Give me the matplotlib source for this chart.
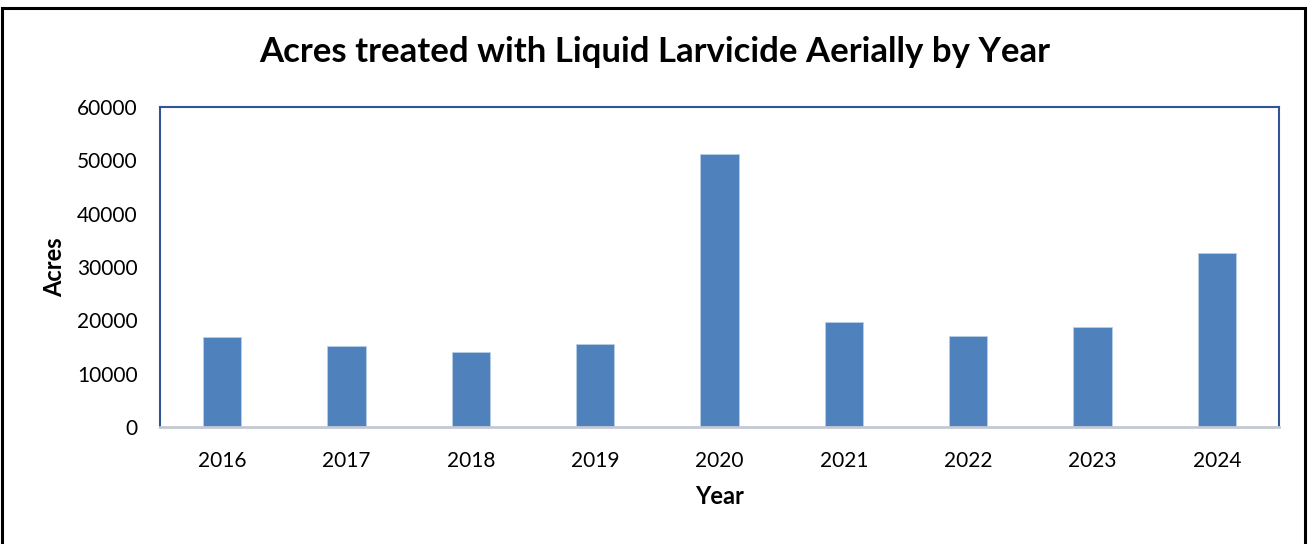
import matplotlib.pyplot as plt
from matplotlib.patches import Rectangle

years = ["2016", "2017", "2018", "2019", "2020", "2021", "2022", "2023", "2024"]
acres = [16800, 15100, 14000, 15500, 51200, 19600, 17000, 18700, 32700]
y_ticks = [0, 10000, 20000, 30000, 40000, 50000, 60000]

plt.rcParams["font.family"] = ["Lato", "DejaVu Sans"]

W, H = 1310, 544
fig = plt.figure(figsize=(W / 100, H / 100), dpi=100)

# outer chart frame
fig.patches.append(Rectangle((2 / W, -0.01), 1303 / W, 1.01 - 8 / H,
                             transform=fig.transFigure, fill=False,
                             edgecolor="black", linewidth=2.2))

ax = fig.add_axes([160 / W, (H - 427) / H, 1119 / W, 320 / H])
x = range(len(years))
ax.bar(x, acres, width=0.31, color="#4F81BD", edgecolor="#B9CDE5", linewidth=0.6, zorder=2)

ax.set_xlim(-0.5, len(years) - 0.5)
ax.set_ylim(0, 60000)
ax.set_yticks(y_ticks)
ax.set_xticks(list(x))
ax.set_xticklabels(years)
ax.tick_params(axis="both", length=0, labelsize=15, colors="black")
ax.tick_params(axis="x", pad=17)
ax.tick_params(axis="y", pad=16)

for side in ("left", "top", "right"):
    ax.spines[side].set_color("#2F5597")
    ax.spines[side].set_linewidth(1.5)
ax.spines["bottom"].set_color("#C3C8D4")
ax.spines["bottom"].set_linewidth(2)

ax.set_xlabel("Year", fontsize=17, fontweight="bold")
ax.set_ylabel("Acres", fontsize=17, fontweight="bold")
ax.xaxis.set_label_coords(0.5, (427 - 497) / 320, transform=ax.transAxes)
ax.yaxis.set_label_coords((55 - 160) / 1119, 0.5, transform=ax.transAxes)
ax.xaxis.label.set_va("center")
ax.yaxis.label.set_va("center")

fig.text(655 / W, 1 - 52 / H, "Acres treated with Liquid Larvicide Aerially by Year",
         ha="center", va="center", fontsize=25, fontweight="bold")

fig.savefig("out.png", dpi=100)
